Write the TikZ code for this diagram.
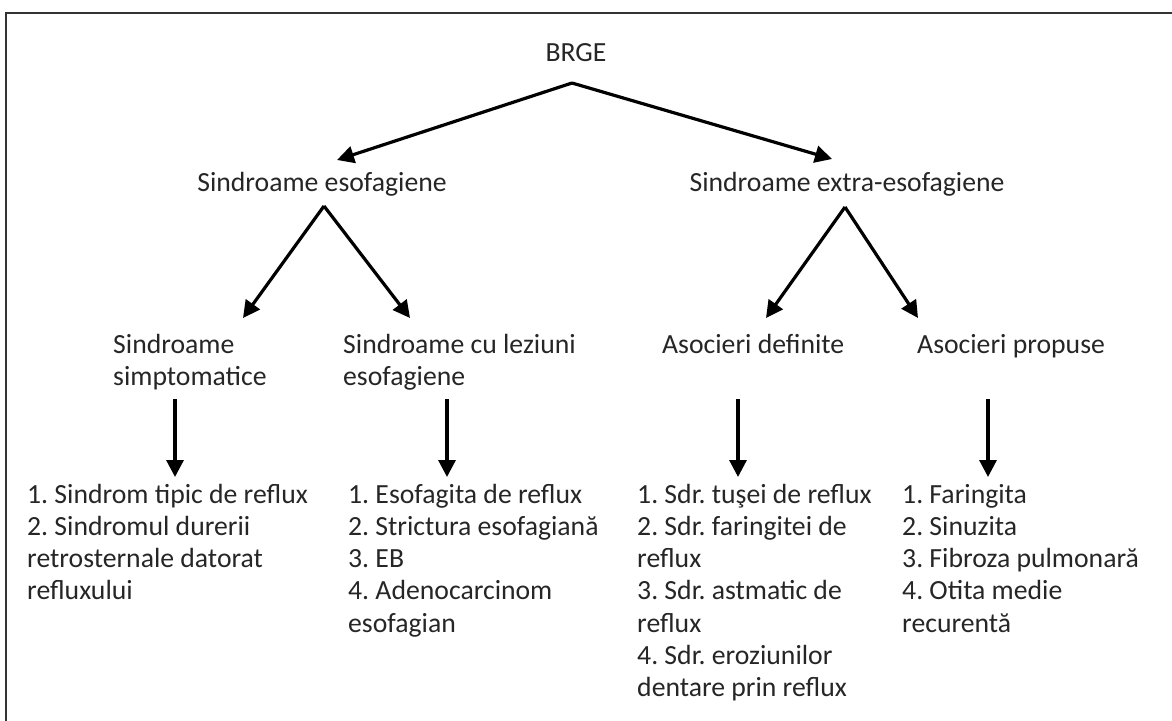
\documentclass[tikz,border=0pt]{standalone}
\usepackage{fontspec}
\setmainfont{Carlito}
\usetikzlibrary{arrows.meta}
\newcommand\mystrut{\rule{0pt}{24pt}}
\frenchspacing
\begin{document}
\begin{tikzpicture}[x=1pt,y=-1pt,
  txt/.style={font=\fontsize{27.7}{32.2}\selectfont\frenchspacing, text=black!85, inner sep=0pt, align=left},
  blk/.style={txt, anchor=north west},
  arr/.style={line width=3.2pt, black, -{Triangle[width=17pt,length=17pt]}},
  frame/.style={line width=1.3pt, draw=black!80}]
\useasboundingbox (0,0) rectangle (1172,720);
\clip (0,0) rectangle (1172,720);
\fill[white] (0,0) rectangle (1172,720);
\draw[frame] (6,13) rectangle (1200,760);

% level 1 and 2
\node[txt, anchor=base] (brge) at (576,61) {BRGE};
\node[txt, anchor=base] (eso) at (322,191) {Sindroame esofagiene};
\node[txt, anchor=base] (extra) at (847,191) {Sindroame extra-esofagiene};

% level 3
\node[blk] (simpt) at (113,329) {\mystrut Sindroame\\simptomatice};
\node[blk] (lez) at (343,329) {\mystrut Sindroame cu leziuni\\esofagiene};
\node[blk] (def) at (662,329) {\mystrut Asocieri definite};
\node[blk] (prop) at (917,329) {\mystrut Asocieri propuse};

% lists
\node[blk] (l1) at (27,479) {\mystrut 1. Sindrom tipic de reflux\\2. Sindromul durerii\\retrosternale datorat\\refluxului};
\node[blk] (l2) at (348,479) {\mystrut 1. Esofagita de reflux\\2. Strictura esofagian\u{a}\\3. EB\\4. Adenocarcinom\\esofagian};
\node[blk] (l3) at (637,479) {\mystrut 1. Sdr. tu\c{s}ei de reflux\\2. Sdr. faringitei de\\reflux\\3. Sdr. astmatic de\\reflux\\4. Sdr. eroziunilor\\dentare prin reflux};
\node[blk] (l4) at (902,479) {\mystrut 1. Faringita\\2. Sinuzita\\3. Fibroza pulmonar\u{a}\\4. Otita medie\\recurent\u{a}};

% connector end points
\coordinate (brgeS) at (572,83);
\coordinate (esoN) at (337,160);
\coordinate (extraN) at (832,159);
\coordinate (esoS) at (324,206);
\coordinate (simptN) at (243,318);
\coordinate (lezN) at (410,318);
\coordinate (extraS) at (845,207);
\coordinate (defN) at (766,318);
\coordinate (propN) at (918,318);
\coordinate (simptS) at (175,399);
\coordinate (l1N) at (175,477);
\coordinate (lezS) at (447,399);
\coordinate (l2N) at (447,477);
\coordinate (defS) at (738,399);
\coordinate (l3N) at (738,477);
\coordinate (propS) at (988,399);
\coordinate (l4N) at (988,477);

\draw[arr] (brgeS) -- (esoN);
\draw[arr] (brgeS) -- (extraN);
\draw[arr] (esoS) -- (simptN);
\draw[arr] (esoS) -- (lezN);
\draw[arr] (extraS) -- (defN);
\draw[arr] (extraS) -- (propN);
\draw[arr] (simptS) -- (l1N);
\draw[arr] (lezS) -- (l2N);
\draw[arr] (defS) -- (l3N);
\draw[arr] (propS) -- (l4N);
\end{tikzpicture}
\end{document}
